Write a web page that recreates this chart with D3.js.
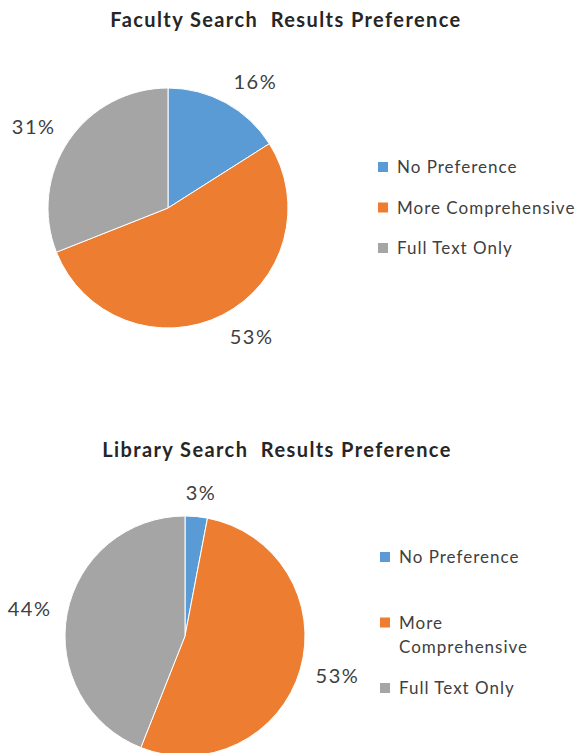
<!DOCTYPE html>
<html>
<head>
<meta charset="utf-8">
<script src="https://cdn.jsdelivr.net/npm/d3@7"></script>
<style>
  body { margin: 0; background: #fff; }
  text { font-family: Lato, "Open Sans", sans-serif; }
</style>
</head>
<body>
<div id="chart"></div>
<script>
// Data
const categories = ["No Preference", "More Comprehensive", "Full Text Only"];
const facultyValues = [16, 53, 31];
const libraryValues = [3, 53, 44];
const chartTitles = ["Faculty Search  Results Preference", "Library Search  Results Preference"];

const colors = ["#5b9bd5", "#ed7d31", "#a5a5a5"];

const width = 579, height = 753;

const svg = d3.select("#chart")
    .append("svg")
    .attr("width", width)
    .attr("height", height);

const color = d3.scaleOrdinal().domain(categories).range(colors);

function drawPie(values, title, opts) {
    const data = categories.map((c, i) => ({ category: c, value: values[i] }));
    const total = d3.sum(data, d => d.value);

    // Title
    svg.append("text")
        .attr("x", opts.titleX)
        .attr("y", opts.titleY)
        .attr("text-anchor", "middle")
        .style("font-size", "20px")
        .style("font-weight", "bold")
        .style("letter-spacing", "1.4px")
        .style("white-space", "pre")
        .style("fill", "#262626")
        .text(title);

    const g = svg.append("g")
        .attr("transform", `translate(${opts.cx},${opts.cy})`);

    const pie = d3.pie().sort(null).value(d => d.value);
    const arc = d3.arc().innerRadius(0).outerRadius(opts.r);
    const arcs = pie(data);

    g.selectAll("path")
        .data(arcs)
        .enter()
        .append("path")
        .attr("d", arc)
        .attr("fill", d => color(d.data.category))
        .attr("stroke", "#fff")
        .attr("stroke-width", 1);

    // Outside-end labels: push the text box off the rim along the mid-angle ray
    const labelFont = 20;
    g.selectAll(".label")
        .data(arcs)
        .enter()
        .append("text")
        .attr("class", "label")
        .attr("text-anchor", "middle")
        .attr("dy", "0.36em")
        .style("font-size", labelFont + "px")
        .style("letter-spacing", "1.5px")
        .style("fill", "#404040")
        .text(d => d3.format(".0f")(d.data.value / total * 100) + "%")
        .each(function(d) {
            const w = this.getBBox().width;
            const h = labelFont * 0.76;
            const a = (d.startAngle + d.endAngle) / 2;
            const s = Math.sin(a), c = -Math.cos(a);
            const px = s * (opts.r + 16), py = c * (opts.r + 16);
            const fx = Math.max(-1, Math.min(1, s * 2.2));
            const fy = Math.max(-1, Math.min(1, c * 1.1));
            d3.select(this)
                .attr("x", px + fx * w / 2)
                .attr("y", py + fy * h / 2);
        });

    // Legend
    const rowY = d3.scalePoint().domain(categories).range(opts.legendRange);
    const legend = svg.append("g");
    const item = legend.selectAll("g")
        .data(categories)
        .enter()
        .append("g")
        .attr("transform", d => `translate(${opts.legendX},${rowY(d)})`);

    item.append("rect")
        .attr("x", 0)
        .attr("y", -5)
        .attr("width", 10)
        .attr("height", 10)
        .attr("fill", d => color(d));

    item.append("text")
        .style("font-size", "17px")
        .style("letter-spacing", "1px")
        .style("fill", "#404040")
        .each(function(d) {
            const lines = (opts.wrap && d.length > opts.wrap) ? d.split(" ") : [d];
            d3.select(this).selectAll("tspan")
                .data(lines)
                .enter()
                .append("tspan")
                .attr("x", 19)
                .attr("dy", (l, i) => i === 0 ? "0.36em" : "1.42em")
                .text(l => l);
        });
}

drawPie(facultyValues, chartTitles[0], {
    titleX: 286, titleY: 27,
    cx: 168, cy: 208, r: 120,
    legendX: 378, legendRange: [167, 248]
});

drawPie(libraryValues, chartTitles[1], {
    titleX: 277, titleY: 457,
    cx: 185, cy: 636, r: 120,
    legendX: 380, legendRange: [557, 688], wrap: 15
});
</script>
</body>
</html>
